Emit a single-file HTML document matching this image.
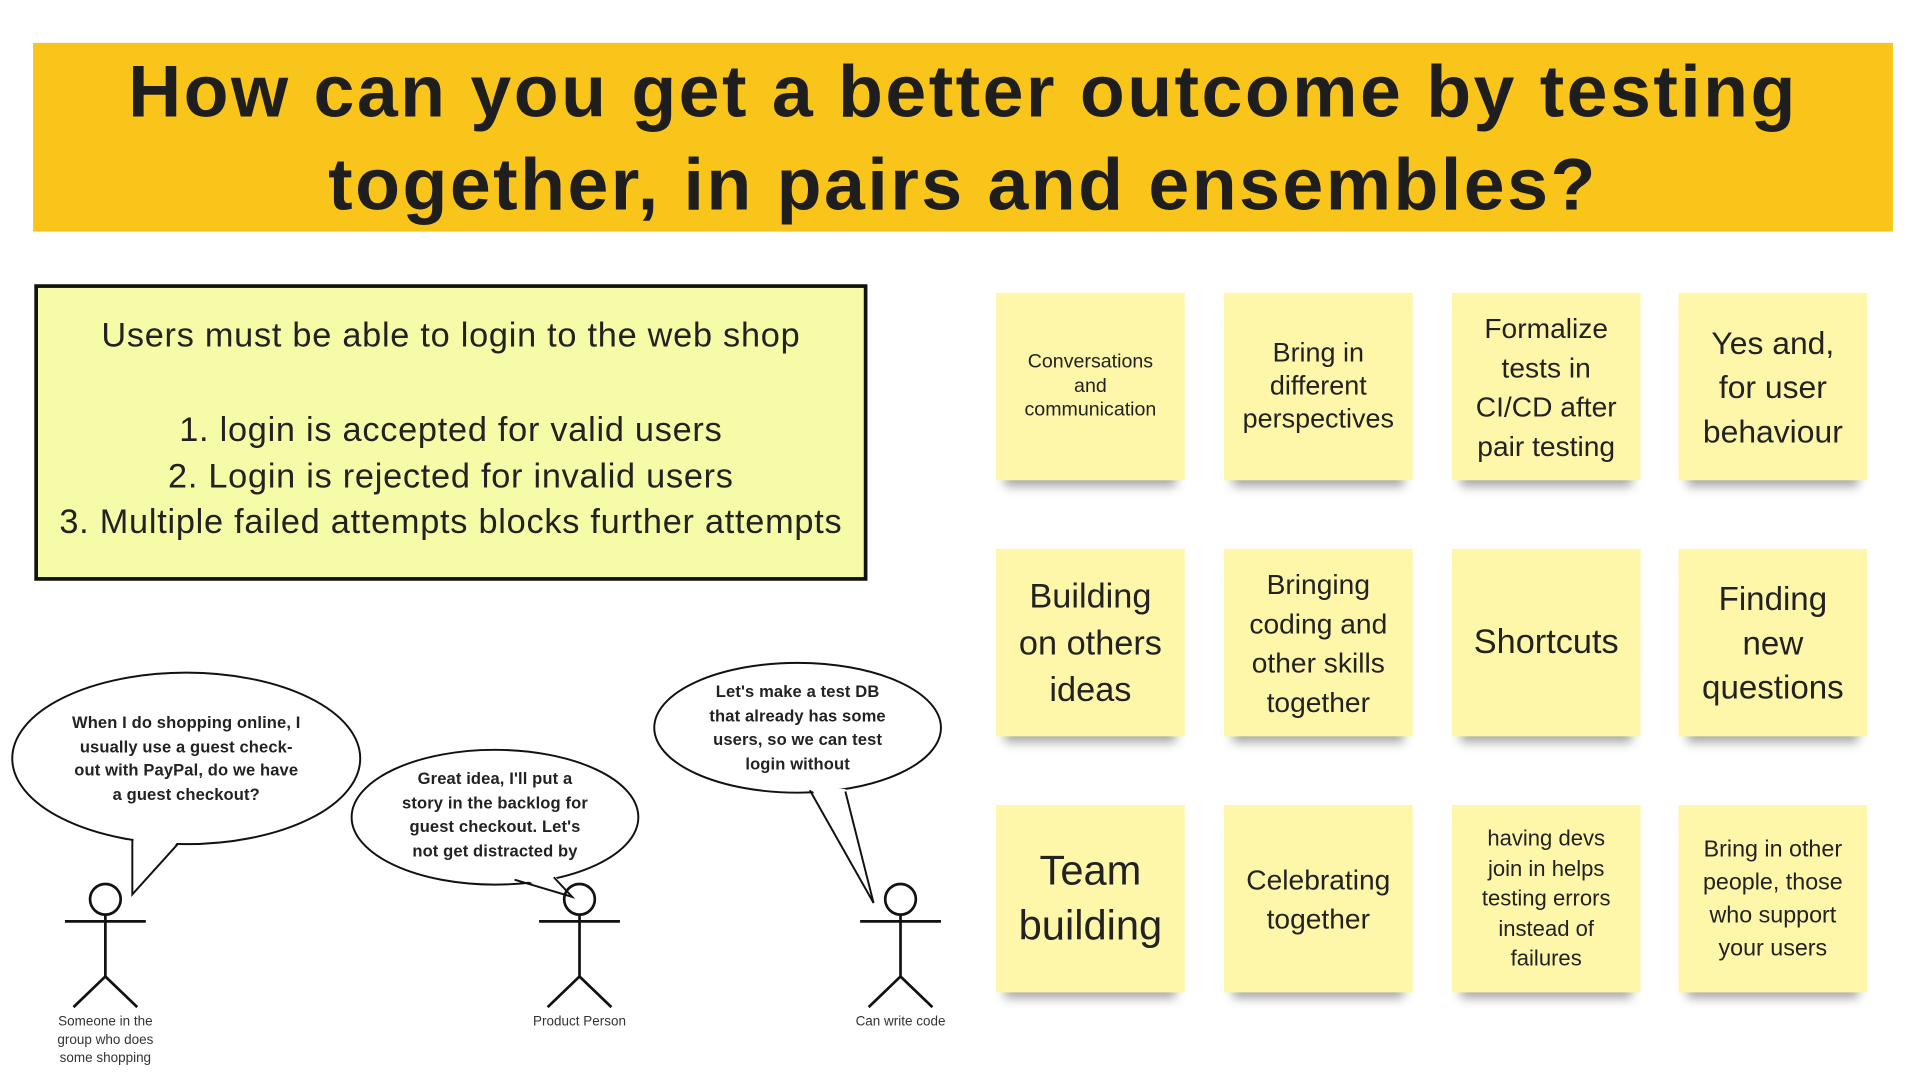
<!DOCTYPE html>
<html><head><meta charset="utf-8"><style>
html,body{margin:0;padding:0;background:#fff;width:1920px;height:1080px;overflow:hidden}
#wrap{position:absolute;left:0;top:0;width:1570px;height:882px;transform:scale(1.2252);transform-origin:0 0;font-family:"Liberation Sans",sans-serif;color:#222}
#banner{position:absolute;left:27px;top:35px;width:1518px;height:154px;background:#f9c51b;text-align:center;font-weight:900;font-size:60px;line-height:76px;color:#1e1e1e;padding-top:2px;box-sizing:border-box;letter-spacing:2px}
#box{position:absolute;left:28px;top:232px;width:680px;height:242px;box-sizing:border-box;border:3px solid #111;background:#f5fba6;text-align:center;font-size:28px;letter-spacing:0.6px;color:#222}
.note{position:absolute;width:154px;height:153px;background:#fef6a9;display:flex;align-items:center;justify-content:center;text-align:center;box-shadow:0 12px 8px -7px rgba(0,0,0,.35);color:#222;line-height:1.22}
.lbl{position:absolute;font-size:11px;text-align:center;color:#333;line-height:15px}
.bt{position:absolute;font-weight:bold;font-size:13.5px;line-height:19.5px;text-align:center;color:#222;letter-spacing:0.1px}
</style></head><body>
<div id="wrap">
<div id="banner">How can you get a better outcome by testing<br>together, in pairs and ensembles?</div>
<div id="box">
<div style="position:absolute;top:23px;width:100%">Users must be able to login to the web shop</div>
<div style="position:absolute;top:97px;width:100%;line-height:37.5px">1. login is accepted for valid users<br>2. Login is rejected for invalid users<br>3. Multiple failed attempts blocks further attempts</div>
</div>

<div class="note" style="left:813px;top:239px;font-size:16px">Conversations<br>and<br>communication</div>
<div class="note" style="left:999px;top:239px;font-size:22px">Bring in<br>different<br>perspectives</div>
<div class="note" style="left:1185px;top:239px;font-size:23px;line-height:32px">Formalize<br>tests in<br>CI/CD after<br>pair testing</div>
<div class="note" style="left:1370px;top:239px;font-size:26px;line-height:36px">Yes and,<br>for user<br>behaviour</div>
<div class="note" style="left:813px;top:448px;font-size:28px;line-height:38px">Building<br>on others<br>ideas</div>
<div class="note" style="left:999px;top:448px;font-size:23px;line-height:32px">Bringing<br>coding and<br>other skills<br>together</div>
<div class="note" style="left:1185px;top:448px;font-size:28px">Shortcuts</div>
<div class="note" style="left:1370px;top:448px;font-size:27px;line-height:36px">Finding<br>new<br>questions</div>
<div class="note" style="left:813px;top:657px;font-size:34px;line-height:45px">Team<br>building</div>
<div class="note" style="left:999px;top:657px;font-size:23px;line-height:32px">Celebrating<br>together</div>
<div class="note" style="left:1185px;top:657px;font-size:18px;line-height:24.5px">having devs<br>join in helps<br>testing errors<br>instead of<br>failures</div>
<div class="note" style="left:1370px;top:657px;font-size:19px;line-height:27px">Bring in other<br>people, those<br>who support<br>your users</div>

<svg style="position:absolute;left:0;top:0" width="1570" height="882" fill="none" stroke="#111" stroke-width="1.6">
<g><ellipse cx="152" cy="619" rx="142" ry="70" fill="#fff"/><polygon points="109,683 108,730 146,686" fill="#fff" stroke="none"/><path d="M108,686 L108,730 L145,689"/></g>
<g><ellipse cx="404" cy="667" rx="117" ry="55" fill="#fff"/><polygon points="421,716 467,732 452,714" fill="#fff" stroke="none"/><path d="M420,718 L467,732 L452,716"/></g>
<g><ellipse cx="651" cy="594" rx="117" ry="53" fill="#fff"/><polygon points="662,643 713,737 690,644" fill="#fff" stroke="none"/><path d="M661,645 L713,737 L690,646"/></g>
<g stroke-width="2.2">
<g><circle cx="86" cy="734" r="12.5"/><path d="M53,752H119M86,747V797L60,822M86,797L112,822"/></g>
<g><circle cx="473" cy="734" r="12.5"/><path d="M440,752H506M473,747V797L447,822M473,797L499,822"/></g>
<g><circle cx="735" cy="734" r="12.5"/><path d="M702,752H768M735,747V797L709,822M735,797L761,822"/></g>
</g>
</svg>
<div class="bt" style="left:32px;top:580px;width:240px">When I do shopping online, I<br>usually use a guest check-<br>out with PayPal, do we have<br>a guest checkout?</div>
<div class="bt" style="left:304px;top:626px;width:200px">Great idea, I'll put a<br>story in the backlog for<br>guest checkout. Let's<br>not get distracted by</div>
<div class="bt" style="left:561px;top:555px;width:180px">Let's make a test DB<br>that already has some<br>users, so we can test<br>login without</div>
<div class="lbl" style="left:26px;top:827px;width:120px">Someone in the<br>group who does<br>some shopping</div>
<div class="lbl" style="left:413px;top:827px;width:120px">Product Person</div>
<div class="lbl" style="left:675px;top:827px;width:120px">Can write code</div>
</div>
</body></html>
